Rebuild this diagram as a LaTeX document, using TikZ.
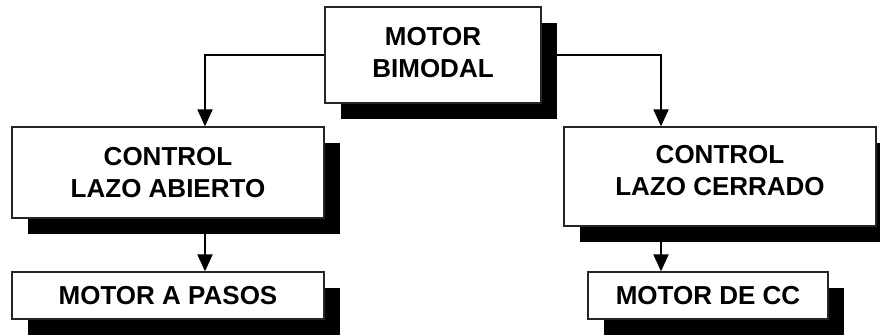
\documentclass[tikz,border=0pt]{standalone}
\usepackage{fontspec}
\setmainfont{Liberation Sans}
\usetikzlibrary{shadows,arrows.meta,backgrounds}
\begin{document}
\begin{tikzpicture}[x=1pt,y=-1pt,
  box/.style={draw=black!85, line width=1.3pt, fill=white, inner sep=0pt, align=center,
    font=\fontsize{26}{32}\selectfont\bfseries,
    drop shadow={shadow xshift=16pt, shadow yshift=-16pt, opacity=1, fill=black, draw=none}},
  conn/.style={line width=2pt, -{Triangle[length=17pt,width=15pt]}}]
\useasboundingbox (0,0) rectangle (880,335);
\node[box, minimum width=216pt, minimum height=96pt] (top) at (433,55) {MOTOR\\BIMODAL\rule[-6pt]{0pt}{6pt}};
\node[box, minimum width=312pt, minimum height=91pt] (la) at (168,172.5) {CONTROL\\LAZO ABIERTO};
\node[box, minimum width=312pt, minimum height=99pt] (lc) at (720,176.5) {CONTROL\\LAZO CERRADO\rule[-12pt]{0pt}{12pt}};
\node[box, minimum width=312pt, minimum height=47pt] (pasos) at (168,295.5) {MOTOR A PASOS};
\node[box, minimum width=240pt, minimum height=47pt] (cc) at (708,295.5) {MOTOR DE CC};
\begin{pgfonlayer}{background}
\draw[conn] (top.west) -| ([xshift=37pt]la.north);
\draw[conn] (top.east) -| ([xshift=-59pt]lc.north);
\draw[conn] ([xshift=37pt]la.south) -- ([xshift=37pt]pasos.north);
\draw[conn] ([xshift=-59pt]lc.south) -- ([xshift=-47pt]cc.north);
\end{pgfonlayer}
\end{tikzpicture}
\end{document}
